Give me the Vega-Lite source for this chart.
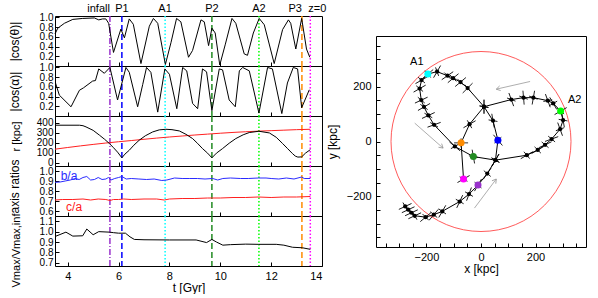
{
  "$schema": "https://vega.github.io/schema/vega-lite/v6.json",
  "padding": {"left": 7, "top": 2, "right": 0, "bottom": 0},
  "background": "white",
  "config": {
    "font": "Liberation Sans",
    "view": {"stroke": "black", "strokeWidth": 1},
    "axis": {"labelFont": "Liberation Sans", "labelFontSize": 10, "labelColor": "black", "titleFont": "Liberation Sans", "titleFontSize": 12, "titleFontWeight": "normal", "titleColor": "black", "grid": false, "domain": false, "tickColor": "black", "tickSize": -4, "labelPadding": 6, "labelOverlap": false},
    "text": {"font": "Liberation Sans"}
  },
  "datasets": {
    "events": [
      {"t": 5.66, "ev": "infall", "dash": "dashdot"},
      {"t": 6.13, "ev": "P1", "dash": "dashed"},
      {"t": 7.83, "ev": "A1", "dash": "dotted"},
      {"t": 9.67, "ev": "P2", "dash": "dashed"},
      {"t": 11.52, "ev": "A2", "dash": "dotted"},
      {"t": 13.21, "ev": "P3", "dash": "dashed"},
      {"t": 13.54, "ev": "z=0", "dash": "dotted"}
    ],
    "cth": [
      {"t":3.5,"v":0.66},{"t":3.61,"v":0.78},{"t":3.87,"v":0.88},{"t":4.2,"v":0.96},{"t":4.59,"v":0.98},{"t":5.05,"v":0.99},{"t":5.22,"v":0.95},{"t":5.37,"v":0.97},{"t":5.5,"v":0.97},{"t":5.61,"v":0.88},{"t":5.8,"v":0.28},{"t":6.09,"v":0.76},{"t":6.23,"v":0.58},{"t":6.42,"v":0.97},{"t":6.58,"v":0.86},{"t":6.88,"v":0.05},{"t":7.21,"v":0.82},{"t":7.37,"v":0.98},{"t":7.54,"v":0.88},{"t":7.84,"v":0.03},{"t":8.06,"v":0.48},{"t":8.28,"v":0.98},{"t":8.45,"v":0.91},{"t":8.75,"v":0.18},{"t":8.91,"v":0.32},{"t":9.24,"v":0.95},{"t":9.37,"v":0.91},{"t":9.54,"v":0.42},{"t":9.67,"v":0.78},{"t":9.8,"v":0.68},{"t":9.98,"v":0.02},{"t":10.2,"v":0.45},{"t":10.46,"v":0.98},{"t":10.61,"v":0.88},{"t":10.94,"v":0.25},{"t":11.07,"v":0.22},{"t":11.3,"v":0.68},{"t":11.53,"v":0.98},{"t":11.73,"v":0.85},{"t":12.12,"v":0.05},{"t":12.45,"v":0.75},{"t":12.68,"v":0.95},{"t":12.77,"v":0.88},{"t":12.97,"v":0.35},{"t":13.2,"v":0.98},{"t":13.39,"v":0.35},{"t":13.52,"v":0.18}
    ],
    "cal": [
      {"t":3.52,"v":0.68},{"t":3.67,"v":0.43},{"t":4.13,"v":0.19},{"t":4.46,"v":0.53},{"t":4.62,"v":0.58},{"t":4.98,"v":0.72},{"t":5.09,"v":0.73},{"t":5.22,"v":0.97},{"t":5.44,"v":0.88},{"t":5.66,"v":1.0},{"t":5.96,"v":0.33},{"t":6.29,"v":1.0},{"t":6.42,"v":0.9},{"t":6.75,"v":0.19},{"t":6.95,"v":0.65},{"t":7.1,"v":1.0},{"t":7.27,"v":0.9},{"t":7.54,"v":0.08},{"t":7.82,"v":0.97},{"t":8.0,"v":0.86},{"t":8.29,"v":0.15},{"t":8.52,"v":1.0},{"t":8.68,"v":0.93},{"t":8.91,"v":0.26},{"t":9.11,"v":0.15},{"t":9.3,"v":0.97},{"t":9.46,"v":0.91},{"t":9.67,"v":0.11},{"t":9.96,"v":0.97},{"t":10.09,"v":0.95},{"t":10.35,"v":0.33},{"t":10.59,"v":0.19},{"t":10.75,"v":0.93},{"t":10.88,"v":1.0},{"t":11.14,"v":0.93},{"t":11.52,"v":0.06},{"t":11.86,"v":1.0},{"t":12.05,"v":0.97},{"t":12.42,"v":0.05},{"t":12.64,"v":0.68},{"t":12.87,"v":1.0},{"t":13.04,"v":0.97},{"t":13.2,"v":0.17},{"t":13.5,"v":0.54}
    ],
    "rad": [
      {"t":3.5,"r":377},{"t":4.46,"r":377},{"t":4.6,"r":372},{"t":4.72,"r":360},{"t":5.0,"r":325},{"t":5.25,"r":276},{"t":5.45,"r":235},{"t":5.64,"r":192},{"t":5.8,"r":150},{"t":5.96,"r":105},{"t":6.13,"r":48},{"t":6.25,"r":85},{"t":6.42,"r":124},{"t":6.6,"r":175},{"t":6.81,"r":225},{"t":7.05,"r":270},{"t":7.34,"r":309},{"t":7.6,"r":330},{"t":7.86,"r":336},{"t":8.1,"r":332},{"t":8.39,"r":319},{"t":8.65,"r":285},{"t":8.91,"r":242},{"t":9.1,"r":195},{"t":9.3,"r":141},{"t":9.5,"r":95},{"t":9.67,"r":48},{"t":9.85,"r":95},{"t":10.09,"r":141},{"t":10.35,"r":195},{"t":10.61,"r":242},{"t":10.9,"r":280},{"t":11.14,"r":303},{"t":11.52,"r":316},{"t":11.93,"r":299},{"t":12.2,"r":255},{"t":12.45,"r":192},{"t":12.65,"r":140},{"t":12.84,"r":90},{"t":12.95,"r":65},{"t":13.05,"r":55},{"t":13.2,"r":57},{"t":13.35,"r":95},{"t":13.54,"r":130}
    ],
    "vir": [
      {"t":3.5,"r":135},{"t":4,"r":152},{"t":4.5,"r":168},{"t":5,"r":183},{"t":5.5,"r":197},{"t":6,"r":210},{"t":6.5,"r":222},{"t":7,"r":235},{"t":7.5,"r":247},{"t":8,"r":258},{"t":8.5,"r":268},{"t":9,"r":278},{"t":9.5,"r":287},{"t":10,"r":296},{"t":10.5,"r":304},{"t":11,"r":311},{"t":11.5,"r":317},{"t":12,"r":322},{"t":12.5,"r":327},{"t":13,"r":332},{"t":13.54,"r":336}
    ],
    "ba": [
      {"t":3.5,"v":0.887},{"t":3.7,"v":0.89},{"t":3.9,"v":0.9},{"t":4.1,"v":0.91},{"t":4.3,"v":0.925},{"t":4.45,"v":0.915},{"t":4.6,"v":0.935},{"t":4.75,"v":0.945},{"t":4.9,"v":0.91},{"t":5.05,"v":0.915},{"t":5.2,"v":0.935},{"t":5.35,"v":0.915},{"t":5.5,"v":0.92},{"t":5.6,"v":0.935},{"t":5.7,"v":0.91},{"t":5.85,"v":0.925},{"t":6.0,"v":0.935},{"t":6.13,"v":0.945},{"t":6.3,"v":0.92},{"t":6.5,"v":0.925},{"t":6.8,"v":0.92},{"t":7.1,"v":0.915},{"t":7.4,"v":0.92},{"t":7.7,"v":0.905},{"t":7.9,"v":0.91},{"t":8.2,"v":0.93},{"t":8.5,"v":0.925},{"t":8.8,"v":0.925},{"t":9.1,"v":0.925},{"t":9.4,"v":0.92},{"t":9.7,"v":0.925},{"t":9.9,"v":0.91},{"t":10.1,"v":0.925},{"t":10.4,"v":0.93},{"t":10.8,"v":0.925},{"t":11.1,"v":0.925},{"t":11.5,"v":0.93},{"t":11.8,"v":0.93},{"t":12.0,"v":0.925},{"t":12.3,"v":0.92},{"t":12.6,"v":0.93},{"t":12.9,"v":0.92},{"t":13.2,"v":0.94},{"t":13.3,"v":0.925},{"t":13.54,"v":0.925}
    ],
    "ca": [
      {"t":3.5,"v":0.71},{"t":3.8,"v":0.715},{"t":4.2,"v":0.715},{"t":4.6,"v":0.72},{"t":4.9,"v":0.71},{"t":5.2,"v":0.72},{"t":5.5,"v":0.715},{"t":5.66,"v":0.705},{"t":5.8,"v":0.715},{"t":6.0,"v":0.715},{"t":6.2,"v":0.72},{"t":6.5,"v":0.715},{"t":7.0,"v":0.72},{"t":7.5,"v":0.72},{"t":7.8,"v":0.71},{"t":8.0,"v":0.72},{"t":8.5,"v":0.725},{"t":9.0,"v":0.725},{"t":9.5,"v":0.73},{"t":10,"v":0.73},{"t":10.5,"v":0.735},{"t":11,"v":0.735},{"t":11.5,"v":0.74},{"t":12,"v":0.735},{"t":12.5,"v":0.74},{"t":13.0,"v":0.74},{"t":13.54,"v":0.745}
    ],
    "ratiolabels": [
      {"t": 4.05, "v": 0.95, "txt": "b/a", "s": "b"},
      {"t": 4.25, "v": 0.645, "txt": "c/a", "s": "c"}
    ],
    "vmax": [
      {"t":3.5,"v":0.953},{"t":3.93,"v":0.995},{"t":4.2,"v":0.957},{"t":4.59,"v":0.96},{"t":4.75,"v":1.025},{"t":5.0,"v":0.97},{"t":5.22,"v":1.0},{"t":5.64,"v":0.995},{"t":5.8,"v":0.99},{"t":6.0,"v":0.985},{"t":6.27,"v":0.985},{"t":6.45,"v":0.95},{"t":6.62,"v":0.925},{"t":7.0,"v":0.922},{"t":8.0,"v":0.92},{"t":9.05,"v":0.92},{"t":9.46,"v":0.895},{"t":9.67,"v":0.925},{"t":9.85,"v":0.9},{"t":10.1,"v":0.87},{"t":10.4,"v":0.875},{"t":11.0,"v":0.88},{"t":11.5,"v":0.878},{"t":12.2,"v":0.878},{"t":12.5,"v":0.87},{"t":12.84,"v":0.85},{"t":13.23,"v":0.845},{"t":13.54,"v":0.83}
    ],
    "orbit": [
      {"i":1,"x":-278,"y":-237,"ev":"none","pa":335,"pb":60},
      {"i":2,"x":-267,"y":-249,"ev":"none","pa":335,"pb":60},
      {"i":3,"x":-255,"y":-260,"ev":"none","pa":335,"pb":60},
      {"i":4,"x":-243,"y":-271,"ev":"none","pa":335,"pb":60},
      {"i":5,"x":-203,"y":-276,"ev":"none","pa":320,"pb":45},
      {"i":6,"x":-173,"y":-267,"ev":"none","pa":310,"pb":40},
      {"i":7,"x":-142,"y":-255,"ev":"none","pa":300,"pb":35},
      {"i":8,"x":-78,"y":-219,"ev":"none","pa":295,"pb":30},
      {"i":9,"x":-44,"y":-192,"ev":"none","pa":290,"pb":30},
      {"i":10,"x":-11,"y":-159,"ev":"infall","pa":300,"pb":40},
      {"i":11,"x":23,"y":-117,"ev":"none","pa":305,"pb":40},
      {"i":12,"x":53,"y":-68,"ev":"none","pa":300,"pb":30},
      {"i":13,"x":62,"y":5,"ev":"P1","pa":50,"pb":320},
      {"i":14,"x":44,"y":76,"ev":"none","pa":80,"pb":10},
      {"i":15,"x":11,"y":127,"ev":"none","pa":90,"pb":10},
      {"i":16,"x":-49,"y":195,"ev":"none","pa":315,"pb":50},
      {"i":17,"x":-75,"y":217,"ev":"none","pa":320,"pb":45},
      {"i":18,"x":-102,"y":231,"ev":"none","pa":320,"pb":45},
      {"i":19,"x":-123,"y":240,"ev":"none","pa":325,"pb":45},
      {"i":20,"x":-161,"y":255,"ev":"none","pa":300,"pb":70},
      {"i":21,"x":-195,"y":246,"ev":"A1","pa":320,"pb":50},
      {"i":22,"x":-218,"y":224,"ev":"none","pa":330,"pb":40},
      {"i":23,"x":-225,"y":193,"ev":"none","pa":330,"pb":40},
      {"i":24,"x":-219,"y":151,"ev":"none","pa":335,"pb":40},
      {"i":25,"x":-209,"y":126,"ev":"none","pa":330,"pb":35},
      {"i":26,"x":-193,"y":95,"ev":"none","pa":335,"pb":30},
      {"i":27,"x":-172,"y":61,"ev":"none","pa":340,"pb":30},
      {"i":28,"x":-96,"y":-18,"ev":"none","pa":40,"pb":330},
      {"i":29,"x":-28,"y":-55,"ev":"P2","pa":80,"pb":10},
      {"i":30,"x":53,"y":-68,"ev":"none","pa":300,"pb":30},
      {"i":31,"x":168,"y":-50,"ev":"none","pa":330,"pb":50},
      {"i":32,"x":208,"y":-31,"ev":"none","pa":330,"pb":45},
      {"i":33,"x":235,"y":-12,"ev":"none","pa":335,"pb":40},
      {"i":34,"x":259,"y":9,"ev":"none","pa":340,"pb":40},
      {"i":35,"x":290,"y":45,"ev":"none","pa":70,"pb":340},
      {"i":36,"x":301,"y":78,"ev":"none","pa":80,"pb":10},
      {"i":37,"x":292,"y":111,"ev":"A2","pa":330,"pb":40},
      {"i":38,"x":265,"y":139,"ev":"none","pa":60,"pb":330},
      {"i":39,"x":245,"y":149,"ev":"none","pa":70,"pb":350},
      {"i":40,"x":192,"y":160,"ev":"none","pa":100,"pb":20},
      {"i":41,"x":156,"y":160,"ev":"none","pa":85,"pb":20},
      {"i":42,"x":111,"y":153,"ev":"none","pa":70,"pb":20},
      {"i":43,"x":11,"y":127,"ev":"none","pa":90,"pb":10},
      {"i":44,"x":-42,"y":63,"ev":"none","pa":330,"pb":60},
      {"i":45,"x":-73,"y":-5,"ev":"P3","pa":0,"pb":90},
      {"i":46,"x":-64,"y":-137,"ev":"z=0","pa":330,"pb":30}
    ],
    "arrows": [
      {"x":180,"y":219,"x2":56,"y2":191,"ang":167},
      {"x":-243,"y":67,"x2":-139,"y2":-24,"ang":41},
      {"x":-24,"y":-243,"x2":56,"y2":-137,"ang":307}
    ],
    "center": [{"x": 0, "y": 0, "rvir": 330}]
  },
  "spacing": -2,
  "hconcat": [
    {
      "spacing": 0,
      "bounds": "flush",
      "vconcat": [
        {
          "width": 267, "height": 14, "view": {"stroke": null},
          "data": {"name": "events"},
          "encoding": {
            "x": {"field": "t", "type": "quantitative", "scale": {"domain": [3.5, 14], "nice": false, "zero": false}, "axis": null},
            "text": {"field": "ev"}
          },
          "layer": [
            {"transform": [{"filter": "datum.ev === 'infall' || datum.ev === 'P3'"}], "mark": {"type": "text", "align": "right", "fontSize": 11, "color": "black", "baseline": "middle"}},
            {"transform": [{"filter": "datum.ev === 'P1' || datum.ev === 'A1' || datum.ev === 'P2' || datum.ev === 'A2'"}], "mark": {"type": "text", "align": "center", "fontSize": 11, "color": "black", "baseline": "middle"}},
            {"transform": [{"filter": "datum.ev === 'z=0'"}], "mark": {"type": "text", "align": "left", "dx": -2, "fontSize": 11, "color": "black", "baseline": "middle"}}
          ]
        },
        {
          "width": 267, "height": 50,
          "layer": [
            {"data": {"name": "events"}, "mark": {"type": "rule", "strokeWidth": 1.5},
             "encoding": {
               "x": {"field": "t", "type": "quantitative", "scale": {"domain": [3.5, 14], "nice": false, "zero": false}, "axis": {"labels": false, "title": null, "values": [4, 6, 8, 10, 12, 14]}},
               "color": {"field": "ev", "type": "nominal", "scale": {"domain": ["infall","P1","A1","P2","A2","P3","z=0"], "range": ["#9932cc","#0000ff","#00ffff","#228b22","#00ff00","#ff8c00","#ff00ff"]}, "legend": null},
               "strokeDash": {"field": "dash", "type": "nominal", "scale": {"domain": ["dashdot","dashed","dotted"], "range": [[6,2,1,2],[6,3],[1.5,2]]}, "legend": null}
             }},
            {"data": {"name": "cth"}, "mark": {"type": "line", "color": "black", "strokeWidth": 1},
             "encoding": {
               "x": {"field": "t", "type": "quantitative"},
               "y": {"field": "v", "type": "quantitative", "scale": {"domain": [0, 1.03], "nice": false}, "axis": {"title": "|cos(θ)|", "values": [0.2, 0.4, 0.6, 0.8, 1.0], "format": ".1f", "titleX": -34, "labelOverlap": false}}
             }}
          ]
        },
        {
          "width": 267, "height": 50,
          "layer": [
            {"data": {"name": "events"}, "mark": {"type": "rule", "strokeWidth": 1.5},
             "encoding": {
               "x": {"field": "t", "type": "quantitative", "scale": {"domain": [3.5, 14], "nice": false, "zero": false}, "axis": {"labels": false, "title": null, "values": [4, 6, 8, 10, 12, 14]}},
               "color": {"field": "ev", "type": "nominal", "scale": {"domain": ["infall","P1","A1","P2","A2","P3","z=0"], "range": ["#9932cc","#0000ff","#00ffff","#228b22","#00ff00","#ff8c00","#ff00ff"]}, "legend": null},
               "strokeDash": {"field": "dash", "type": "nominal", "scale": {"domain": ["dashdot","dashed","dotted"], "range": [[6,2,1,2],[6,3],[1.5,2]]}, "legend": null}
             }},
            {"data": {"name": "cal"}, "mark": {"type": "line", "color": "black", "strokeWidth": 1},
             "encoding": {
               "x": {"field": "t", "type": "quantitative"},
               "y": {"field": "v", "type": "quantitative", "scale": {"domain": [0, 1.03], "nice": false}, "axis": {"title": "|cos(α)|", "values": [0.2, 0.4, 0.6, 0.8, 1.0], "format": ".1f", "titleX": -34, "labelOverlap": false}}
             }}
          ]
        },
        {
          "width": 267, "height": 50,
          "layer": [
            {"data": {"name": "events"}, "mark": {"type": "rule", "strokeWidth": 1.5},
             "encoding": {
               "x": {"field": "t", "type": "quantitative", "scale": {"domain": [3.5, 14], "nice": false, "zero": false}, "axis": {"labels": false, "title": null, "values": [4, 6, 8, 10, 12, 14]}},
               "color": {"field": "ev", "type": "nominal", "scale": {"domain": ["infall","P1","A1","P2","A2","P3","z=0"], "range": ["#9932cc","#0000ff","#00ffff","#228b22","#00ff00","#ff8c00","#ff00ff"]}, "legend": null},
               "strokeDash": {"field": "dash", "type": "nominal", "scale": {"domain": ["dashdot","dashed","dotted"], "range": [[6,2,1,2],[6,3],[1.5,2]]}, "legend": null}
             }},
            {
              "encoding": {
                "x": {"field": "t", "type": "quantitative"},
                "y": {"field": "r", "type": "quantitative", "scale": {"domain": [-35, 470], "nice": false, "zero": false}, "axis": {"title": "r [kpc]", "titleFontSize": 11, "values": [0, 100, 200, 300, 400], "titleX": -34, "titleY": 20, "labelOverlap": false}}
              },
              "layer": [
                {"data": {"name": "vir"}, "mark": {"type": "line", "color": "#ff2020", "strokeWidth": 1}},
                {"data": {"name": "rad"}, "mark": {"type": "line", "color": "black", "strokeWidth": 1}}
              ]
            }
          ]
        },
        {
          "width": 267, "height": 50,
          "layer": [
            {"data": {"name": "events"}, "mark": {"type": "rule", "strokeWidth": 1.5},
             "encoding": {
               "x": {"field": "t", "type": "quantitative", "scale": {"domain": [3.5, 14], "nice": false, "zero": false}, "axis": {"labels": false, "title": null, "values": [4, 6, 8, 10, 12, 14]}},
               "color": {"field": "ev", "type": "nominal", "scale": {"domain": ["infall","P1","A1","P2","A2","P3","z=0"], "range": ["#9932cc","#0000ff","#00ffff","#228b22","#00ff00","#ff8c00","#ff00ff"]}, "legend": null},
               "strokeDash": {"field": "dash", "type": "nominal", "scale": {"domain": ["dashdot","dashed","dotted"], "range": [[6,2,1,2],[6,3],[1.5,2]]}, "legend": null}
             }},
            {
              "encoding": {
                "x": {"field": "t", "type": "quantitative"},
                "y": {"field": "v", "type": "quantitative", "scale": {"domain": [0.55, 1.05], "nice": false, "zero": false}, "axis": {"title": "axis ratios", "values": [0.6, 0.7, 0.8, 0.9, 1.0], "format": ".1f", "titleX": -34, "titleY": 20, "labelOverlap": false}}
              },
              "layer": [
                {"data": {"name": "ba"}, "mark": {"type": "line", "color": "#2a2aff", "strokeWidth": 1}},
                {"data": {"name": "ca"}, "mark": {"type": "line", "color": "#ff2020", "strokeWidth": 1}},
                {"data": {"name": "ratiolabels"}, "transform": [{"filter": "datum.s === 'b'"}], "mark": {"type": "text", "color": "#2a2aff", "fontSize": 12, "baseline": "middle"},
                 "encoding": {"text": {"field": "txt"}}},
                {"data": {"name": "ratiolabels"}, "transform": [{"filter": "datum.s === 'c'"}], "mark": {"type": "text", "color": "#ff2020", "fontSize": 12, "baseline": "middle"},
                 "encoding": {"text": {"field": "txt"}}}
              ]
            }
          ]
        },
        {
          "width": 267, "height": 50,
          "layer": [
            {"data": {"name": "events"}, "mark": {"type": "rule", "strokeWidth": 1.5},
             "encoding": {
               "x": {"field": "t", "type": "quantitative", "scale": {"domain": [3.5, 14], "nice": false, "zero": false}, "axis": {"title": "t [Gyr]", "values": [4, 6, 8, 10, 12, 14], "labelPadding": 8, "titlePadding": 1, "labelFontSize": 11}},
               "color": {"field": "ev", "type": "nominal", "scale": {"domain": ["infall","P1","A1","P2","A2","P3","z=0"], "range": ["#9932cc","#0000ff","#00ffff","#228b22","#00ff00","#ff8c00","#ff00ff"]}, "legend": null},
               "strokeDash": {"field": "dash", "type": "nominal", "scale": {"domain": ["dashdot","dashed","dotted"], "range": [[6,2,1,2],[6,3],[1.5,2]]}, "legend": null}
             }},
            {"data": {"name": "vmax"}, "mark": {"type": "line", "color": "black", "strokeWidth": 1},
             "encoding": {
               "x": {"field": "t", "type": "quantitative"},
               "y": {"field": "v", "type": "quantitative", "scale": {"domain": [0.67, 1.15], "nice": false, "zero": false}, "axis": {"title": "Vmax/Vmax,inf", "titleFontSize": 11, "values": [0.7, 0.8, 0.9, 1.0, 1.1], "format": ".1f", "titleX": -34, "titleY": 34, "labelOverlap": false}}
             }}
          ]
        }
      ]
    },
    {
      "spacing": 0,
      "vconcat": [
        {"width": 210, "height": 33, "view": {"stroke": null}, "data": {"values": []}, "mark": "point", "encoding": {}},
        {
          "width": 210, "height": 211,
          "encoding": {
            "x": {"field": "x", "type": "quantitative", "scale": {"domain": [-385, 385], "nice": false, "zero": false}, "axis": {"title": "x [kpc]", "values": [-350,-300,-250,-200,-150,-100,-50,0,50,100,150,200,250,300,350], "labelExpr": "datum.value % 200 === 0 ? datum.label : ''", "labelPadding": 8, "titlePadding": 1, "labelFontSize": 11}},
            "y": {"field": "y", "type": "quantitative", "scale": {"domain": [-385, 385], "nice": false, "zero": false}, "axis": {"title": "y [kpc]", "values": [-350,-300,-250,-200,-150,-100,-50,0,50,100,150,200,250,300,350], "labelExpr": "datum.value % 200 === 0 ? datum.label : ''", "labelPadding": 9, "titleX": -37, "labelFontSize": 11}}
          },
          "layer": [
            {"data": {"name": "center"}, "mark": {"type": "point", "shape": "circle", "filled": false, "size": 32400, "color": "#ff3030", "strokeWidth": 0.8, "opacity": 1}},
            {"data": {"name": "arrows"}, "mark": {"type": "rule", "color": "#999999", "strokeWidth": 0.8},
             "encoding": {"x2": {"field": "x2"}, "y2": {"field": "y2"}}},
            {"data": {"name": "arrows"}, "mark": {"type": "point", "shape": "M-1,-0.6L0,0L-1,0.6", "filled": false, "size": 64, "color": "#999999", "strokeWidth": 0.8, "opacity": 1},
             "encoding": {"x": {"field": "x2", "type": "quantitative"}, "y": {"field": "y2", "type": "quantitative"}, "angle": {"field": "ang", "type": "quantitative", "scale": null}}},
            {"data": {"name": "orbit"}, "mark": {"type": "line", "color": "black", "strokeWidth": 1},
             "encoding": {"order": {"field": "i", "type": "quantitative"}}},
            {"data": {"name": "orbit"}, "mark": {"type": "point", "shape": "stroke", "filled": false, "size": 196, "color": "black", "strokeWidth": 0.8, "opacity": 1},
             "encoding": {"angle": {"field": "pa", "type": "quantitative", "scale": null}}},
            {"data": {"name": "orbit"}, "mark": {"type": "point", "shape": "stroke", "filled": false, "size": 81, "color": "black", "strokeWidth": 0.8, "opacity": 1},
             "encoding": {"angle": {"field": "pb", "type": "quantitative", "scale": null}}},
            {"data": {"name": "orbit"}, "transform": [{"filter": "datum.ev === 'none'"}], "mark": {"type": "point", "shape": "circle", "filled": true, "size": 18, "color": "black", "opacity": 1}},
            {"data": {"name": "orbit"}, "transform": [{"filter": "datum.ev !== 'none'"}], "mark": {"type": "circle", "size": 49, "opacity": 1},
             "encoding": {"color": {"field": "ev", "type": "nominal", "scale": {"domain": ["infall","P1","A1","P2","A2","P3","z=0"], "range": ["#9932cc","#0000ff","#00ffff","#228b22","#00ff00","#ff8c00","#ff00ff"]}, "legend": null}}},
            {"data": {"name": "orbit"}, "transform": [{"filter": "datum.ev === 'A1'"}], "mark": {"type": "text", "fontSize": 11, "color": "black", "dx": -11, "dy": -12}, "encoding": {"text": {"field": "ev"}}},
            {"data": {"name": "orbit"}, "transform": [{"filter": "datum.ev === 'A2'"}], "mark": {"type": "text", "fontSize": 11, "color": "black", "dx": 14, "dy": -11}, "encoding": {"text": {"field": "ev"}}}
          ]
        }
      ]
    }
  ]
}
